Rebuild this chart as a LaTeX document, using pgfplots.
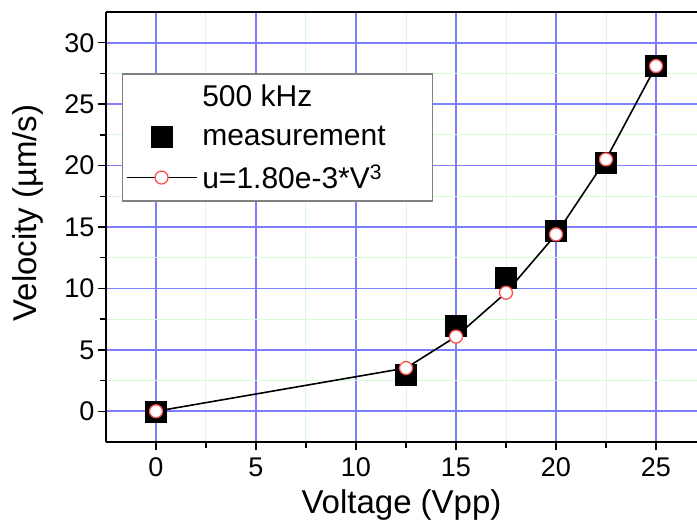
\documentclass[border=0pt]{standalone}
\usepackage{pgfplots}
\pgfplotsset{compat=1.18}
\usepackage{fontspec}
\setmainfont{Liberation Sans}
\definecolor{gridblue}{RGB}{125,125,255}
\definecolor{gridgreen}{RGB}{215,250,215}
\definecolor{fitred}{RGB}{255,80,80}
\begin{document}
\begin{tikzpicture}
\begin{axis}[
  scale only axis,
  width=591pt, height=430pt,
  xmin=-2.5, xmax=27.05,
  ymin=-2.5, ymax=32.5,
  axis x line*=box, axis y line*=left,
  axis line style={black, line width=1.5pt},
  xtick={0,5,10,15,20,25},
  ytick={0,5,10,15,20,25,30},
  minor x tick num=1, minor y tick num=1,
  xtick pos=left, ytick pos=left,
  tick align=outside,
  major tick length=8pt, minor tick length=6pt,
  every tick/.style={black, line width=1.5pt},
  grid=both,
  major grid style={gridblue, line width=1.6pt},
  minor grid style={gridgreen, line width=1pt},
  /pgf/number format/assume math mode=true,
  ticklabel style={font=\fontsize{27}{30}\selectfont},
  xticklabel style={yshift=-4pt},
  xlabel={Voltage (Vpp)},
  ylabel={Velocity (µm/s)},
  label style={font=\fontsize{33}{36}\selectfont},
  xlabel style={yshift=-6pt},
  ylabel style={yshift=14pt, xshift=14pt},
  legend cell align=left,
  legend style={
    at={(0.027,0.858)}, anchor=north west,
    draw=gray, line width=1.5pt,
    font=\fontsize{30}{34}\selectfont,
    inner xsep=3pt, inner ysep=9pt,
    row sep=14pt,
    nodes={inner xsep=5pt},
    legend image code/.code={%
      \draw[mark repeat=2,mark phase=2] plot coordinates {(0pt,0pt)(35pt,0pt)(70pt,0pt)};}
  },
]
\addlegendimage{empty legend}
\addlegendentry{500 kHz}
\addplot[only marks, mark=square*, mark size=10.5pt, black, line width=0.5pt]
  coordinates {(0,0) (12.5,2.95) (15,6.95) (17.5,10.9) (20,14.7) (22.5,20.2) (25,28.1)};
\addlegendentry{\makebox[222pt][l]{measurement}}
\addplot[black, line width=1.6pt, mark=*, mark size=6.5pt,
  mark options={draw=fitred, fill=white, line width=1.3pt}]
  coordinates {(0,0) (12.5,3.52) (15,6.08) (17.5,9.65) (20,14.4) (22.5,20.5) (25,28.1)};
\addlegendentry{u=1.80e-3*V\textsuperscript{3}}
\end{axis}
\pgfresetboundingbox
\path (current axis.south west) ++(-106pt,-80pt) coordinate (bl);
\path (current axis.north east) ++(0pt,12pt) coordinate (tr);
\path (bl) rectangle (tr);
\end{tikzpicture}
\end{document}
